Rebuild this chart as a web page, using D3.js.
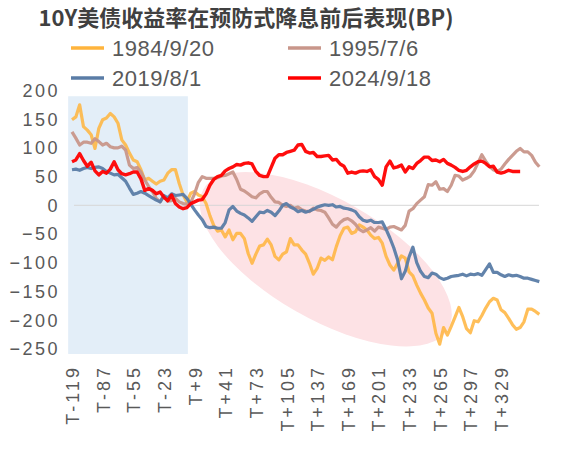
<!doctype html>
<html>
<head>
  <meta charset="utf-8">
  <script src="https://d3js.org/d3.v7.min.js"></script>
  <style>
    body { margin: 0; background: #fff; }
    text { font-family: "Liberation Sans", Arial, sans-serif; fill: #595959; }
  </style>
</head>
<body>
  <div id="viz"></div>
  <script>
    // values, one value every 4 days starting at T-119
    var firstDay = -119, dayStep = 4;

    var tickDays = [-119, -87, -55, -23, 9, 41, 73, 105, 137, 169, 201, 233, 265, 297, 329];
    var tickLabels = ["T-119", "T-87", "T-55", "T-23", "T+9", "T+41", "T+73", "T+105",
                      "T+137", "T+169", "T+201", "T+233", "T+265", "T+297", "T+329"];
    var yTicks = [200, 150, 100, 50, 0, -50, -100, -150, -200, -250];

    var seriesNames = ["1984/9/20", "1995/7/6", "2019/8/1", "2024/9/18"];
    var seriesColors = ["#FFB43C", "#C8968A", "#5A7CA6", "#FF0000"];

    var y1984 = [149, 154, 175, 137, 131, 123, 99, 134, 149, 152, 160, 154, 143, 114, 105, 91, 79, 76, 62, 44,
                 47, 42, 37, 42, 44, 56, 62, 62, 38, 18, 6, 21, 24, 18, 15, 3, -18, -35, -45, -43,
                 -55, -43, -60, -49, -49, -58, -84, -101, -85, -71, -69, -59, -69, -89, -95, -85, -81, -58, -69, -69,
                 -78, -85, -101, -120, -110, -92, -96, -90, -95, -72, -53, -40, -38, -49, -46, -34, -38, -43, -52, -58,
                 -56, -66, -89, -104, -113, -101, -88, -92, -116, -123, -139, -153, -165, -179, -188, -223, -242, -213, -226, -211,
                 -195, -178, -194, -215, -222, -201, -203, -192, -179, -168, -162, -165, -182, -187, -197, -208, -216, -213, -203, -181,
                 -181, -185, -190];
    var y1995 = [128, 117, 105, 110, 110, 108, 116, 111, 105, 108, 102, 100, 100, 103, 96, 70, 64, 66, 58, 44,
                 33, 24, 12, 6, 16, 7, 8, 12, 6, 3, 2, 5, 20, 40, 50, 47, 47, 47, 48, 51,
                 52, 55, 58, 45, 28, 25, 20, 15, 13, 20, 24, 24, 14, 6, 5, 0, -2, 0, -5, -3,
                 -8, -10, -11, -5, -8, -9, -12, -22, -33, -38, -30, -25, -23, -27, -33, -42, -46, -43, -39, -45,
                 -38, -40, -42, -38, -37, -40, -43, -35, -10, -6, 3, 9, 15, 36, 35, 41, 28, 29, 24, 35,
                 52, 51, 44, 47, 51, 60, 74, 88, 77, 68, 62, 59, 63, 72, 80, 87, 94, 99, 93, 93,
                 87, 75, 67];
    var y2019 = [62, 63, 61, 64, 66, 64, 66, 67, 64, 59, 56, 53, 54, 48, 42, 30, 19, 21, 24, 21,
                 17, 13, 9, 6, 17, 13, 20, 17, 18, 19, 12, 2, -8, -17, -25, -37, -39, -38, -40, -40,
                 -30, -8, -2, -10, -14, -17, -22, -28, -20, -12, -13, -9, -12, -18, -10, 0, 3, -3, -6, -11,
                 -9, -12, -10, -7, -3, -1, 1, 0, 1, -3, -2, -5, -6, -8, -11, -20, -26, -28, -26, -30,
                 -30, -29, -42, -57, -74, -95, -128, -115, -90, -73, -100, -115, -124, -126, -118, -120, -126, -129, -127, -124,
                 -123, -122, -120, -123, -120, -121, -119, -122, -112, -102, -117, -117, -121, -124, -121, -123, -122, -124, -127, -127,
                 -129, -131, -133];
    var y2024 = [76, 79, 90, 78, 68, 75, 60, 53, 59, 56, 63, 76, 62, 55, 53, 55, 58, 58, 46, 26,
                 29, 26, 20, 23, 14, 8, 18, 3, -3, -6, -4, 3, 6, 9, 10, 20, 35, 45, 50, 52,
                 60, 64, 67, 71, 70, 73, 74, 72, 59, 52, 50, 50, 66, 82, 88, 88, 92, 94, 96, 105,
                 106, 94, 91, 92, 85, 85, 86, 87, 79, 80, 72, 68, 56, 58, 56, 59, 60, 59, 62, 50,
                 45, 35, 67, 77, 65, 67, 70, 58, 67, 64, 73, 78, 84, 84, 78, 79, 76, 80, 73, 70,
                 66, 61, 59, 61, 67, 72, 76, 77, 73, 67, 68, 58, 56, 58, 61, 59, 59, 59];

    var allSeries = [y1984, y1995, y2019, y2024];

    // pre-cut shaded window and highlight ellipse (in day / bp units)
    var shadeDays = [-123, 2], shadeBp = [190, -259];
    var ellipseCenter = [146, -94];

    var W = 569, H = 453;
    var svg = d3.select("#viz").append("svg")
        .attr("width", W).attr("height", H)
        .style("background", "#fff");

    var x = d3.scaleLinear().domain([-119, 329]).range([72, 501]);
    var y = d3.scaleLinear().domain([-250, 200]).range([348.8, 90.5]);

    // title
    svg.append("text")
       .attr("x", 246).attr("y", 26)
       .attr("text-anchor", "middle")
       .style("font-family", "'Noto Sans CJK SC', sans-serif")
       .style("font-weight", "bold")
       .style("font-size", "22px")
       .style("fill", "#404040")
       .text("10Y美债收益率在预防式降息前后表现(BP)");

    // legend
    var legendPos = [[71, 48], [288, 48], [71, 78], [288, 78]];
    seriesNames.forEach(function(name, i) {
      var p = legendPos[i];
      svg.append("line")
         .attr("x1", p[0]).attr("x2", p[0] + 33)
         .attr("y1", p[1]).attr("y2", p[1])
         .style("stroke", seriesColors[i])
         .style("stroke-width", 3.5);
      svg.append("text")
         .attr("x", p[0] + 41).attr("y", p[1] + 8)
         .style("font-size", "22px")
         .style("letter-spacing", "0.5px")
         .text(name);
    });

    // blue shaded window
    svg.append("rect")
       .attr("x", x(shadeDays[0]))
       .attr("y", y(shadeBp[0]))
       .attr("width", x(shadeDays[1]) - x(shadeDays[0]))
       .attr("height", y(shadeBp[1]) - y(shadeBp[0]))
       .style("fill", "#E3EEF8");

    // pink ellipse
    svg.append("ellipse")
       .attr("cx", 0).attr("cy", 0)
       .attr("rx", 141).attr("ry", 60)
       .attr("transform", "translate(" + x(ellipseCenter[0]) + "," + y(ellipseCenter[1]) + ") rotate(29.7)")
       .style("fill", "#FDE2E5");

    // zero line
    svg.append("line")
       .attr("x1", 74).attr("x2", 539)
       .attr("y1", y(0)).attr("y2", y(0))
       .style("stroke", "#D6D6D6")
       .style("stroke-width", 1);

    // y axis
    var yAxis = svg.append("g")
       .attr("transform", "translate(60,0)")
       .call(d3.axisLeft(y).tickValues(yTicks).tickSize(0).tickPadding(0));
    yAxis.select(".domain").remove();
    yAxis.selectAll("text")
       .style("font-size", "18px")
       .style("letter-spacing", "2.5px")
       .style("font-family", "'Liberation Sans', Arial, sans-serif")
       .style("fill", "#595959")
       .attr("dy", "0.33em");

    // x axis, labels rotated
    var xAxis = svg.append("g")
       .attr("transform", "translate(0,368)")
       .call(d3.axisBottom(x).tickValues(tickDays)
             .tickFormat(function(d, i) { return tickLabels[i]; })
             .tickSize(0).tickPadding(0));
    xAxis.select(".domain").remove();
    xAxis.selectAll("text")
       .style("font-size", "18px")
       .style("letter-spacing", "3px")
       .style("font-family", "'Liberation Sans', Arial, sans-serif")
       .style("fill", "#595959")
       .style("text-anchor", "end")
       .attr("x", 0).attr("y", 0).attr("dy", 0)
       .attr("transform", "rotate(-90) translate(3,6.5)");

    // series lines
    var line = d3.line()
       .x(function(d, i) { return x(firstDay + i * dayStep); })
       .y(function(d) { return y(d); });

    allSeries.forEach(function(vals, i) {
      svg.append("path")
         .datum(vals)
         .attr("d", line)
         .style("fill", "none")
         .style("stroke", seriesColors[i])
         .style("stroke-width", i === 3 ? 3.4 : 3.2)
         .style("stroke-opacity", i === 0 ? 0.85 : 0.95)
         .style("stroke-linejoin", "round");
    });
  </script>
</body>
</html>
